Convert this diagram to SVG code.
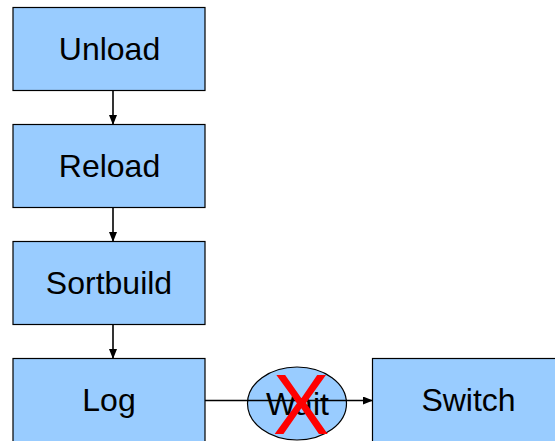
<svg xmlns="http://www.w3.org/2000/svg" width="555" height="441" viewBox="0 0 555 441">
  <style>
    .box { fill: #99CCFF; stroke: #000; stroke-width: 1.2; }
    .lbl { font-family: "Liberation Sans", Arial, sans-serif; font-size: 32px; fill: #000; text-anchor: middle; }
    .conn { stroke: #000; stroke-width: 1.6; fill: none; marker-end: url(#arr); }
  </style>
  <defs>
    <marker id="arr" markerWidth="10" markerHeight="8" refX="9" refY="4" orient="auto" markerUnits="userSpaceOnUse">
      <path d="M0,0 L10,4 L0,8 Z" fill="#000"/>
    </marker>
  </defs>
  <rect width="555" height="441" fill="#fff"/>
  <g id="unload">
    <rect class="box" x="13" y="7.5" width="192" height="83"/>
    <text class="lbl" x="109.5" y="60">Unload</text>
  </g>
  <g id="reload">
    <rect class="box" x="13" y="124.5" width="192" height="83"/>
    <text class="lbl" x="109.5" y="177">Reload</text>
  </g>
  <g id="sortbuild">
    <rect class="box" x="13" y="241.5" width="192" height="83"/>
    <text class="lbl" x="109" y="294">Sortbuild</text>
  </g>
  <g id="log">
    <rect class="box" x="13" y="358.5" width="192" height="90"/>
    <text class="lbl" x="109" y="411">Log</text>
  </g>
  <g id="switch">
    <rect class="box" x="372.5" y="358.5" width="192" height="90"/>
    <text class="lbl" x="468.5" y="411">Switch</text>
  </g>
  <g id="wait">
    <ellipse cx="297" cy="403.5" rx="49.5" ry="36.5" fill="#99CCFF" stroke="#000" stroke-width="1.2"/>
  </g>
  <g id="connectors">
    <line class="conn" x1="113" y1="90.5" x2="113" y2="124"/>
    <line class="conn" x1="113" y1="207.5" x2="113" y2="241"/>
    <line class="conn" x1="113" y1="324.5" x2="113" y2="358"/>
    <line class="conn" x1="205" y1="400.5" x2="372" y2="400.5"/>
  </g>
  <g id="wait-label">
    <text class="lbl" x="297.5" y="415">Wait</text>
    <text x="301" y="434" font-family="Liberation Sans, Arial, sans-serif" font-size="85" fill="#FF0000" text-anchor="middle">X</text>
  </g>
</svg>
